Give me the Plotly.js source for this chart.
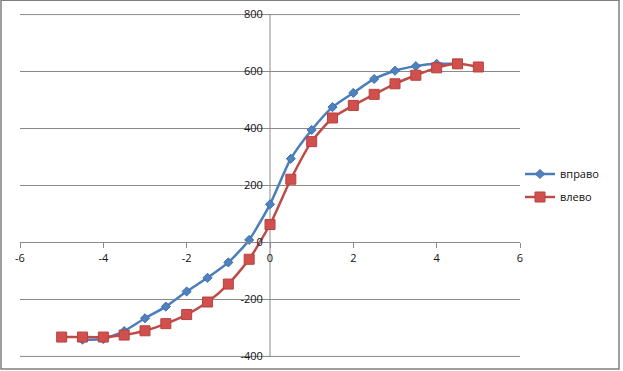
<!DOCTYPE html>
<html>
<head>
<meta charset="utf-8">
<script src="https://cdn.plot.ly/plotly-3.0.1.min.js"></script>
<style>
html,body{margin:0;padding:0;background:#fff;}
#chart{width:623px;height:371px;box-sizing:border-box;}
</style>
</head>
<body>
<div id="chart"></div>
<script>
var xRight = [-4.5, -4, -3.5, -3, -2.5, -2, -1.5, -1, -0.5, 0, 0.5, 1, 1.5, 2, 2.5, 3, 3.5, 4, 4.5];
var yRight = [-341, -339, -311, -266, -225, -172, -124, -70, 9, 134, 294, 395, 475, 525, 574, 603, 619, 627, 627];
var xLeft = [-5, -4.5, -4, -3.5, -3, -2.5, -2, -1.5, -1, -0.5, 0, 0.5, 1, 1.5, 2, 2.5, 3, 3.5, 4, 4.5, 5];
var yLeft = [-332, -332, -332, -325, -310, -285, -253, -209, -146, -59, 63, 222, 354, 437, 481, 520, 557, 587, 613, 627, 616];
var nameRight = 'вправо';
var nameLeft = 'влево';
var xTicks = [-6, -4, -2, 0, 2, 4, 6];
var yTicks = [-400, -200, 0, 200, 400, 600, 800];

var traces = [
  {x: xRight, y: yRight, name: nameRight, legendgroup: 'a', type: 'scatter', mode: 'lines+markers',
   line: {color: '#4A7EBB', width: 2.5, shape: 'spline', smoothing: 0.6},
   marker: {symbol: 'diamond', size: 7, color: '#4F81BD', line: {color: '#3D6FAF', width: 1}}},
  {x: xLeft, y: yLeft, name: nameLeft, legendgroup: 'b', type: 'scatter', mode: 'lines+markers',
   line: {color: '#BE4B48', width: 2.5, shape: 'spline', smoothing: 0.6},
   marker: {symbol: 'square', size: 10, color: '#D0504D', line: {color: '#B9413E', width: 1}}}
];

var font = {family: 'Open Sans, Liberation Sans, sans-serif', size: 11, color: '#111'};
var edgeGrid = [yTicks[0], yTicks[yTicks.length - 1]].map(function (v) {
  return {type: 'line', xref: 'x', yref: 'y', x0: -6, x1: 6, y0: v, y1: v,
          line: {color: '#8a8a8a', width: 1}, layer: 'below'};
});
var layout = {
  width: 623, height: 371,
  margin: {l: 20, r: 103, t: 14, b: 14},
  paper_bgcolor: '#fff', plot_bgcolor: '#fff',
  font: font,
  showlegend: true,
  legend: {x: 1.0, y: 0.5, xanchor: 'left', yanchor: 'middle', font: font, bgcolor: 'rgba(0,0,0,0)',
           traceorder: 'grouped', tracegroupgap: 4},
  xaxis: {range: [-6, 6], tickvals: xTicks, ticktext: xTicks.map(String), anchor: 'free', position: 402/1204,
    showgrid: false, zeroline: false, showline: true, linecolor: '#8a8a8a', linewidth: 1,
    ticks: 'outside', ticklen: 5, tickcolor: '#8a8a8a', fixedrange: true},
  yaxis: {range: [-402, 802], tickvals: yTicks, ticktext: yTicks.map(String), anchor: 'free', position: 0.5,
    showgrid: true, gridcolor: '#8a8a8a', gridwidth: 1, zeroline: false, showline: false,
    ticks: 'outside', ticklen: 5, tickcolor: '#8a8a8a', fixedrange: true},
  shapes: edgeGrid.concat([
    {type: 'line', xref: 'x', yref: 'y', x0: 0, x1: 0, y0: -400, y1: 800,
     line: {color: '#8a8a8a', width: 1}, layer: 'below'},
    {type: 'rect', xref: 'paper', yref: 'paper', x0: -0.038, x1: 1.198, y0: -0.035, y1: 1.04,
     line: {color: '#7f7f7f', width: 1.5}, fillcolor: 'rgba(0,0,0,0)'}
  ])
};

Plotly.newPlot('chart', traces, layout, {displayModeBar: false, staticPlot: true});
</script>
</body>
</html>
